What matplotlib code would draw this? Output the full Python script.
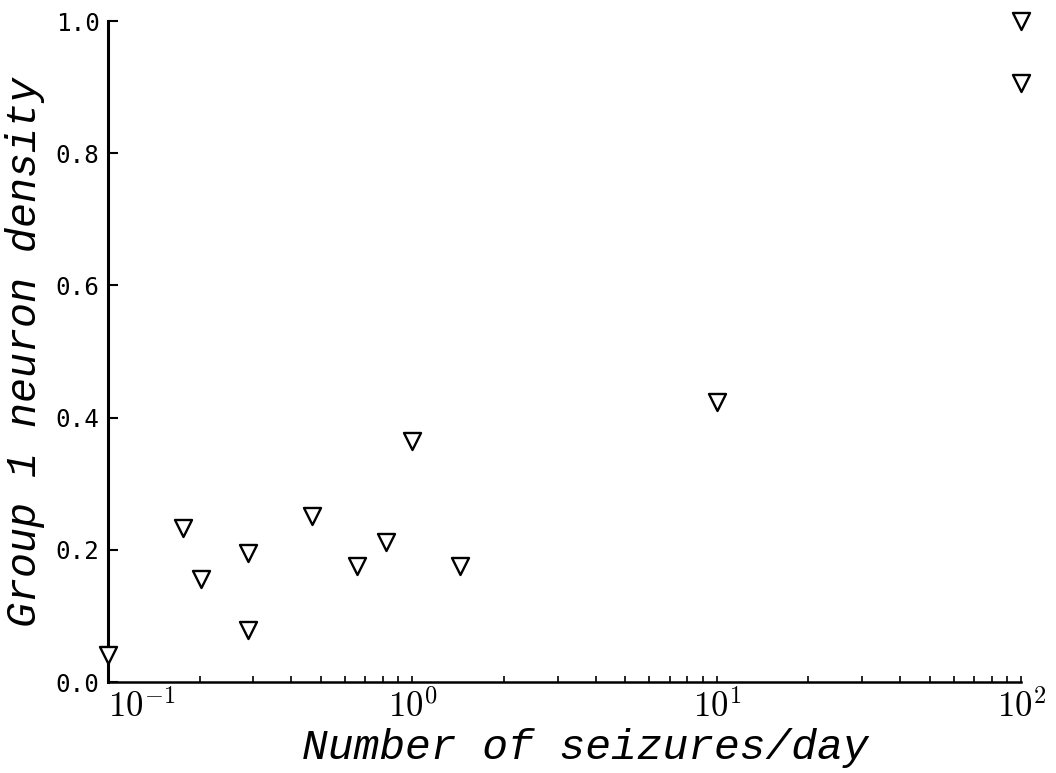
import matplotlib
matplotlib.use("Agg")
import matplotlib.pyplot as plt
from matplotlib.ticker import LogLocator, FuncFormatter

plt.rcParams['mathtext.fontset'] = 'cm'
plt.rcParams['font.family'] = 'Liberation Mono'

seizures_per_day = [0.10, 0.176, 0.202, 0.288, 0.288, 0.467, 0.66, 0.816, 1.0, 1.43, 10.0, 100.0, 100.0]
neuron_density = [0.041, 0.233, 0.156, 0.195, 0.079, 0.251, 0.175, 0.212, 0.365, 0.175, 0.424, 1.0, 0.906]
y_ticks = [0.0, 0.2, 0.4, 0.6, 0.8, 1.0]
x_ticks = [0.1, 1, 10, 100]
x_ticklabels = [r'$10^{-1}$', r'$10^{0}$', r'$10^{1}$', r'$10^{2}$']

fig = plt.figure(figsize=(10.56, 7.73), dpi=100)
ax = fig.add_axes([0.1023, 0.1177, 0.8647, 0.8551])

ax.scatter(seizures_per_day, neuron_density, marker='v', s=150, facecolors='white',
           edgecolors='black', linewidths=1.7, clip_on=False, zorder=3)

ax.set_xscale('log')
ax.set_xlim(0.1, 100)
ax.set_ylim(0, 1.0)

ax.spines['top'].set_visible(False)
ax.spines['right'].set_visible(False)
ax.spines['left'].set_linewidth(2.2)
ax.spines['bottom'].set_linewidth(1.8)

ax.set_xticks(x_ticks)
ax.set_xticklabels(x_ticklabels)
ax.xaxis.set_minor_locator(LogLocator(base=10, subs=range(2, 10)))
ax.xaxis.set_minor_formatter(FuncFormatter(lambda v, p: ''))
ax.set_yticks(y_ticks)
ax.set_yticklabels([f'{v:.1f}' for v in y_ticks])

ax.tick_params(axis='x', which='both', direction='in', length=4, width=1.2, pad=5, labelsize=25)
ax.tick_params(axis='y', which='major', direction='in', length=7, width=1.5, pad=6, labelsize=17.5)
for lbl in ax.get_yticklabels():
    lbl.set_fontfamily('DejaVu Sans Mono')
xl = ax.get_xticklabels()
xl[0].set_horizontalalignment('left')

ax.set_xlabel('Number of seizures/day', fontsize=31, fontstyle='italic')
ax.xaxis.set_label_coords(0.523, -0.070)
ax.xaxis.label.set_verticalalignment('top')
ax.set_ylabel('Group 1 neuron density', fontsize=30, fontstyle='italic')
ax.yaxis.set_label_coords(-0.069, 0.50)

fig.savefig('out.png', dpi=100, facecolor='white')
